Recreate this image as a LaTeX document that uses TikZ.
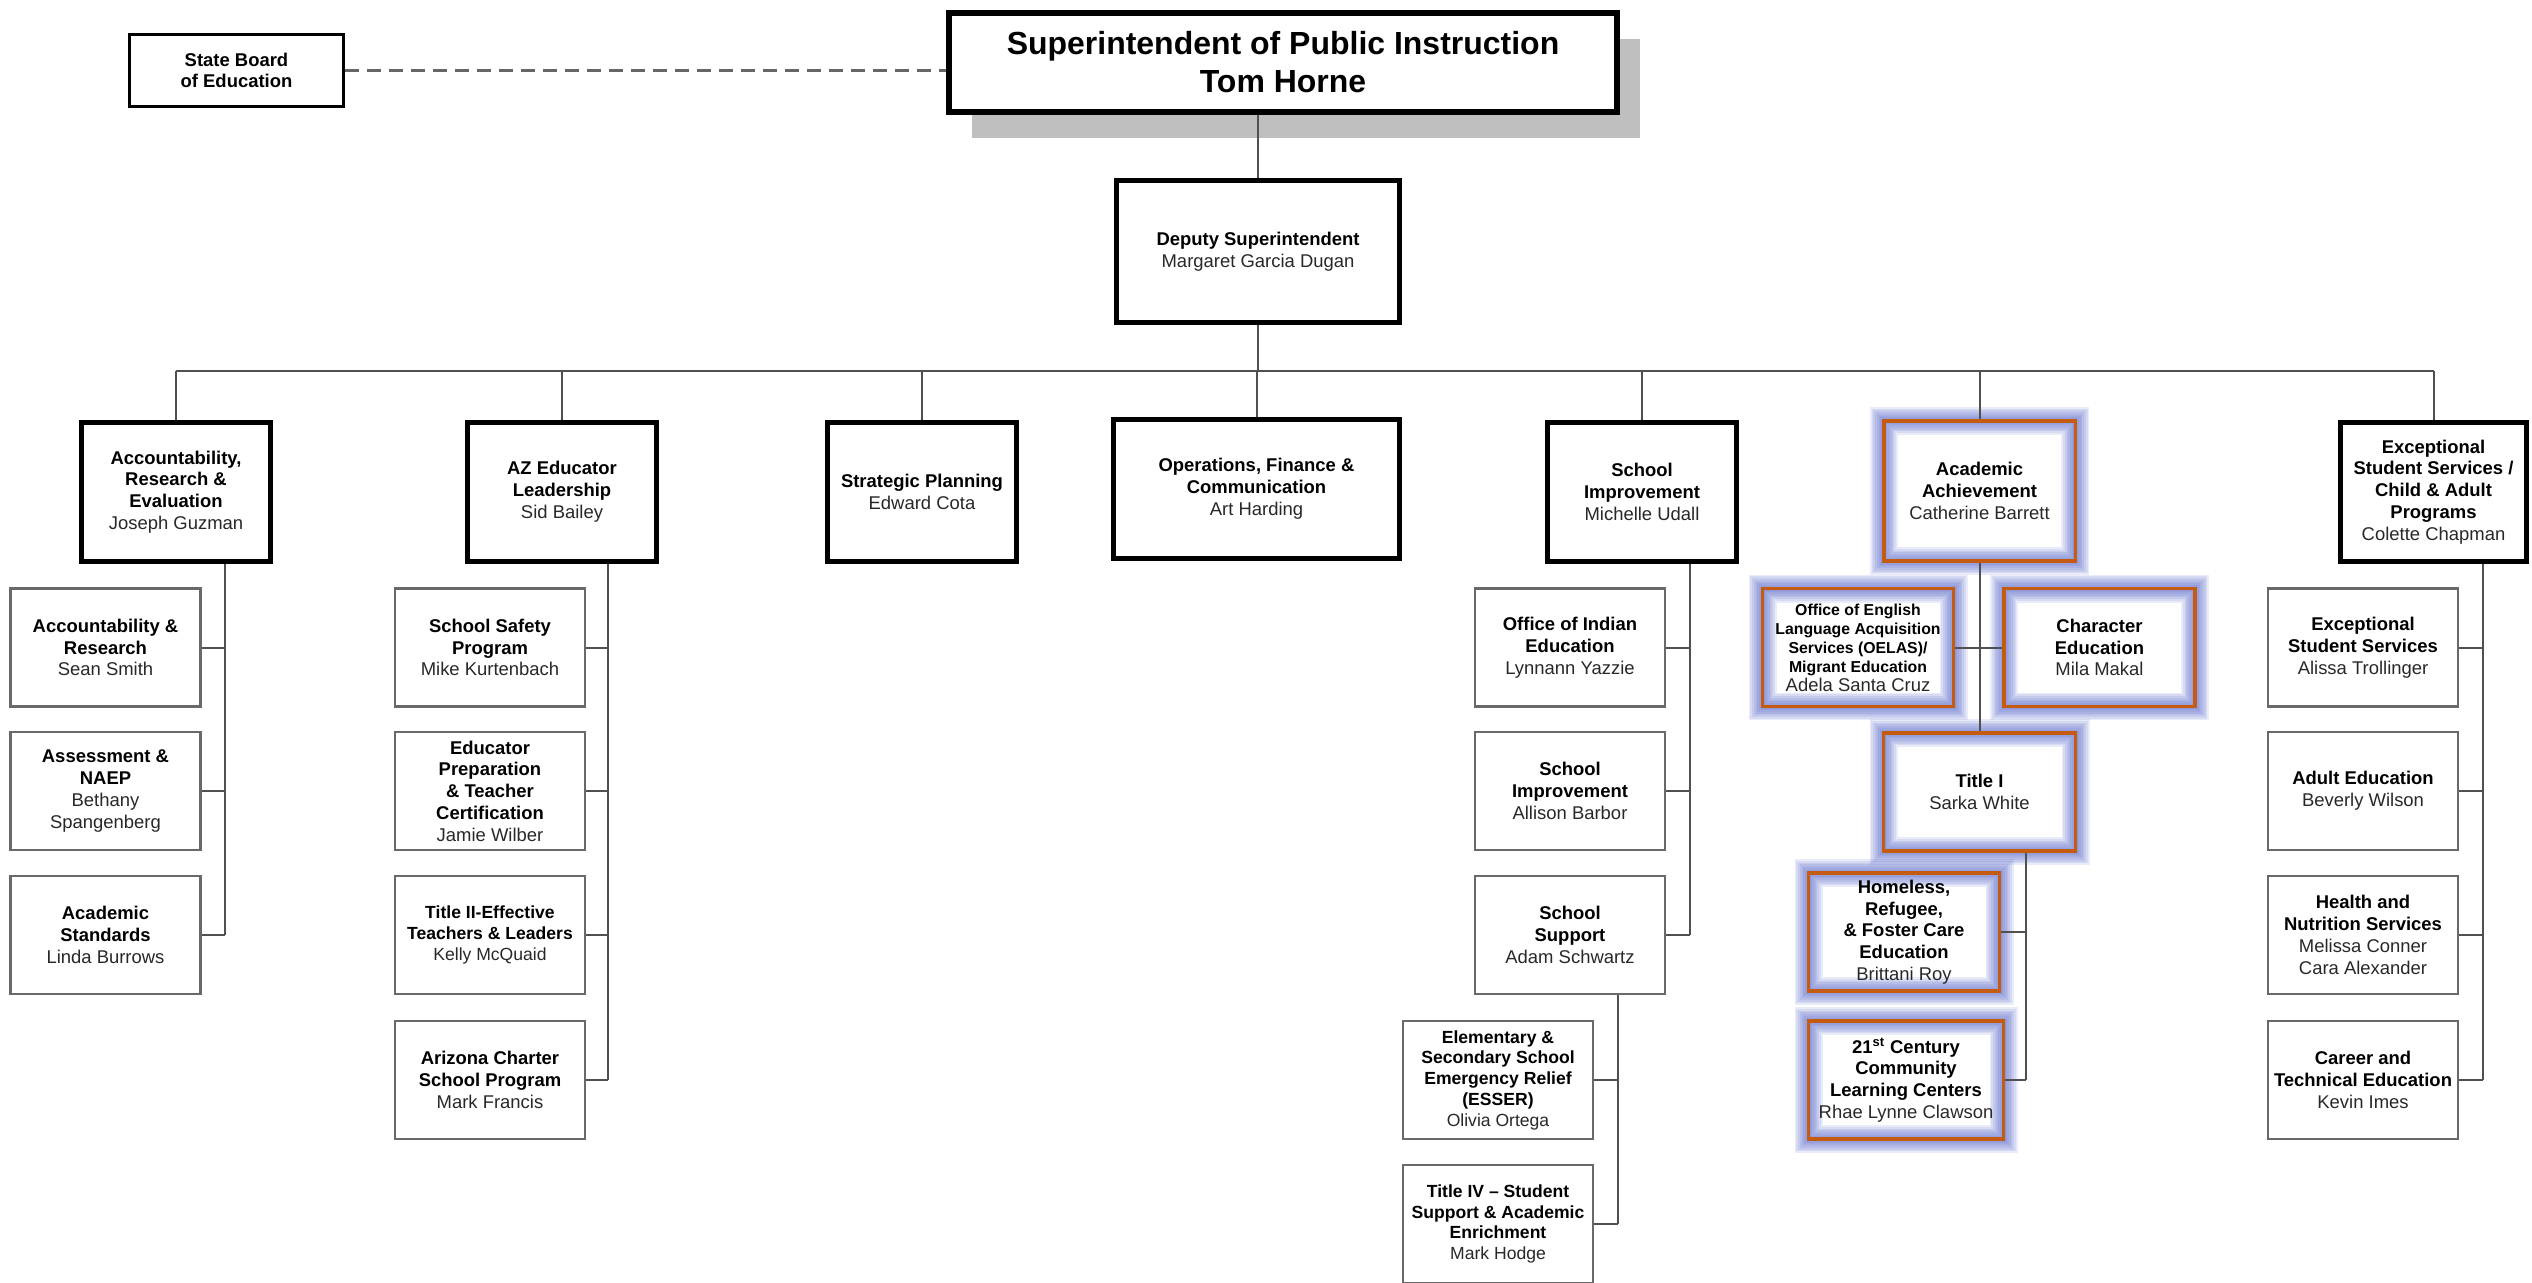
\documentclass[tikz,border=0pt]{standalone}
\usepackage{fontspec}
\setmainfont{Liberation Sans}
\usepackage{tikz}
\usetikzlibrary{shadows}
\definecolor{line}{RGB}{80, 80, 80}
\definecolor{frame}{RGB}{105, 105, 105}
\definecolor{shade}{RGB}{191, 191, 191}
\definecolor{hilite}{RGB}{197, 90, 17}
\definecolor{glow}{RGB}{85, 102, 200}
\definecolor{name}{RGB}{40, 40, 40}

\newcommand{\who}[1]{{\mdseries\color{name}#1}}

\begin{document}
\begin{tikzpicture}[x=0.02cm, y=-0.02cm,
  link/.style={draw=line, line width=0.04cm},
  head/.style={draw, line width=0.1cm, fill=white, minimum width=3.78cm, minimum height=2.78cm,
    align=center, inner sep=0pt, font=\bfseries\fontsize{10.5}{12.4}\selectfont},
  unit/.style={draw=frame, line width=0.05cm, fill=white, minimum width=3.8cm, minimum height=2.36cm,
    align=center, inner sep=0pt, font=\bfseries\fontsize{10.5}{12.4}\selectfont},
  small/.style={font=\bfseries\fontsize{10}{11.8}\selectfont},
  haze/.style={preaction={draw=glow, draw opacity=0.13, line width=#1}},
  glowbox/.style={draw=hilite, line width=0.07cm, minimum width=3.82cm, minimum height=2.36cm,
    align=center, inner sep=0pt, font=\bfseries\fontsize{10.5}{12.4}\selectfont,
    haze=0.56cm, haze=0.49cm, haze=0.42cm, haze=0.35cm,
    haze=0.28cm, haze=0.21cm, haze=0.14cm, haze=0.08cm}]

\useasboundingbox (0, 0) rectangle (2532, 1282);

\pgfmathsetmacro{\bus}{371}
\pgfmathsetmacro{\top}{492}
\pgfmathsetmacro{\ra}{647.5}
\pgfmathsetmacro{\rb}{791}
\pgfmathsetmacro{\rc}{935}
\pgfmathsetmacro{\rd}{1080}
\pgfmathsetmacro{\re}{1224}

% top of the chart
\node[draw, line width=0.12cm, fill=white, minimum width=13.36cm, minimum height=1.98cm, align=center,
  font=\bfseries\fontsize{18.2}{21.6}\selectfont,
  drop shadow={shadow xshift=0.46cm, shadow yshift=-0.52cm, fill=shade, opacity=1}]
  (sup) at (1283, 62.5) {Superintendent of Public Instruction\\Tom Horne};

\node[draw, line width=0.06cm, minimum width=4.28cm, minimum height=1.44cm, align=center,
  font=\bfseries\fontsize{10.5}{12.4}\selectfont]
  (board) at (236.5, 70.5) {State Board\\of Education};

\node[head, minimum width=5.66cm, minimum height=2.84cm] (dep) at (1258, 251.5)
  {Deputy Superintendent\\\who{Margaret Garcia Dugan}};

% divisions
\node[head] (are) at (176, \top) {Accountability,\\Research \&\\Evaluation\\\who{Joseph Guzman}};
\node[head] (aze) at (562, \top) {AZ Educator\\Leadership\\\who{Sid Bailey}};
\node[head] (stp) at (922, \top) {Strategic Planning\\\who{Edward Cota}};
\node[head, minimum width=5.72cm] (ofc) at (1256.5, 489) {Operations, Finance \&\\Communication\\\who{Art Harding}};
\node[head] (sim) at (1642, \top) {School\\Improvement\\\who{Michelle Udall}};
\node[glowbox, minimum width=3.83cm, minimum height=2.81cm] (aca) at (1979.5, 491)
  {Academic\\Achievement\\\who{Catherine Barrett}};
\node[head, minimum width=3.72cm] (ess) at (2433.5, \top)
  {Exceptional\\Student Services /\\Child \& Adult\\Programs\\\who{Colette Chapman}};

% units
\node[unit] (are1) at (105.5, \ra) {Accountability \&\\Research\\\who{Sean Smith}};
\node[unit] (are2) at (105.5, \rb) {Assessment \&\\NAEP\\\who{Bethany}\\\who{Spangenberg}};
\node[unit] (are3) at (105.5, \rc) {Academic\\Standards\\\who{Linda Burrows}};

\node[unit] (aze1) at (490, \ra) {School Safety\\Program\\\who{Mike Kurtenbach}};
\node[unit] (aze2) at (490, \rb) {Educator\\Preparation\\\& Teacher\\Certification\\\who{Jamie Wilber}};
\node[unit, small] (aze3) at (490, \rc) {Title II-Effective\\Teachers \& Leaders\\\who{Kelly McQuaid}};
\node[unit] (aze4) at (490, \rd) {Arizona Charter\\School Program\\\who{Mark Francis}};

\node[unit] (sim1) at (1570, \ra) {Office of Indian\\Education\\\who{Lynnann Yazzie}};
\node[unit] (sim2) at (1570, \rb) {School\\Improvement\\\who{Allison Barbor}};
\node[unit] (sim3) at (1570, \rc) {School\\Support\\\who{Adam Schwartz}};

\node[unit, small] (ss1) at (1498, \rd) {Elementary \&\\Secondary School\\Emergency Relief\\(ESSER)\\\who{Olivia Ortega}};
\node[unit, small] (ss2) at (1498, \re) {Title IV -- Student\\Support \& Academic\\Enrichment\\\who{Mark Hodge}};

\node[glowbox, font=\bfseries\fontsize{9}{10.8}\selectfont] (oel) at (1858, \ra)
  {Office of English\\Language Acquisition\\Services (OELAS)/\\Migrant Education\\\who{\fontsize{10.5}{12}\selectfont Adela Santa Cruz}};
\node[glowbox] (chr) at (2099.5, \ra) {Character\\Education\\\who{Mila Makal}};
\node[glowbox, minimum width=3.84cm] (tt1) at (1979.5, 792) {Title I\\\who{Sarka White}};
\node[glowbox] (hom) at (1904, 932) {Homeless,\\Refugee,\\\& Foster Care\\Education\\\who{Brittani Roy}};
\node[glowbox, minimum width=3.9cm] (ccl) at (1906, \rd)
  {21\textsuperscript{st} Century\\Community\\Learning Centers\\\who{Rhae Lynne Clawson}};

\node[unit] (ess1) at (2363, \ra) {Exceptional\\Student Services\\\who{Alissa Trollinger}};
\node[unit] (ess2) at (2363, \rb) {Adult Education\\\who{Beverly Wilson}};
\node[unit] (ess3) at (2363, \rc) {Health and\\Nutrition Services\\\who{Melissa Conner}\\\who{Cara Alexander}};
\node[unit] (ess4) at (2363, \rd) {Career and\\Technical Education\\\who{Kevin Imes}};

% lines
\draw[draw=black!60, line width=0.05cm, dash pattern=on 0.28cm off 0.16cm] (board.east) -- (board.east -| sup.west);
\draw[link] (sup.south -| dep.north) -- (dep.north);
\coordinate (bus) at (0, \bus);
\draw[link] (dep.south) -- (dep.south |- bus);
\draw[link] (are.north |- bus) -- (ess.north |- bus);
\foreach \n in {are, aze, stp, ofc, sim, aca, ess}
  \draw[link] (\n.north |- bus) -- (\n.north);

\coordinate (areL) at (225, 0);
\coordinate (azeL) at (608, 0);
\coordinate (simL) at (1690, 0);
\coordinate (ssL) at (1618, 0);
\coordinate (acaL) at (2026, 0);
\coordinate (essL) at (2483, 0);

\draw[link] (are.south -| areL) -- (are3.east -| areL);
\foreach \k in {1, 2, 3}
  \draw[link] (are\k.east) -- (are\k.east -| areL);

\draw[link] (aze.south -| azeL) -- (aze4.east -| azeL);
\foreach \k in {1, 2, 3, 4}
  \draw[link] (aze\k.east) -- (aze\k.east -| azeL);

\draw[link] (sim.south -| simL) -- (sim3.east -| simL);
\foreach \k in {1, 2, 3}
  \draw[link] (sim\k.east) -- (sim\k.east -| simL);

\draw[link] (sim3.south -| ssL) -- (ss2.east -| ssL);
\foreach \k in {1, 2}
  \draw[link] (ss\k.east) -- (ss\k.east -| ssL);

\draw[link] (aca.south) -- (tt1.north);
\draw[link] (oel.east) -- (chr.west);
\draw[link] (tt1.south -| acaL) -- (ccl.east -| acaL);
\draw[link] (hom.east) -- (hom.east -| acaL);
\draw[link] (ccl.east) -- (ccl.east -| acaL);

\draw[link] (ess.south -| essL) -- (ess4.east -| essL);
\foreach \k in {1, 2, 3, 4}
  \draw[link] (ess\k.east) -- (ess\k.east -| essL);

\end{tikzpicture}
\end{document}
